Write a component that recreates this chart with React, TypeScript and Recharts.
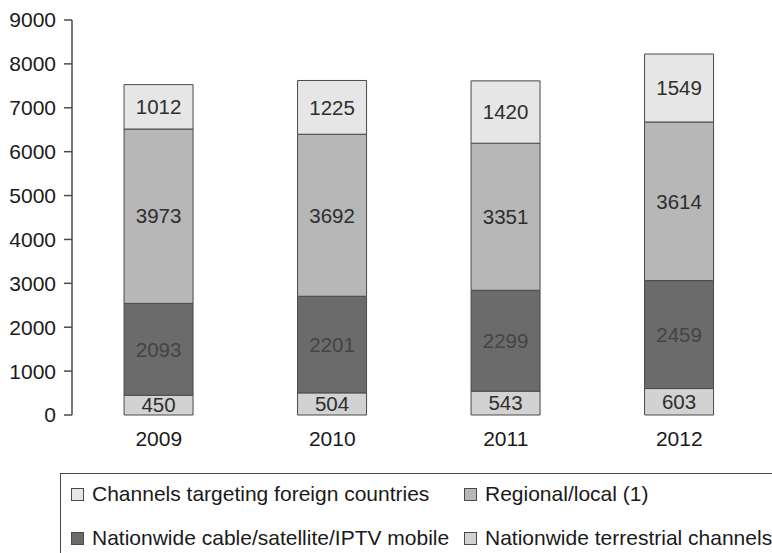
import React from "react";
import { BarChart, Bar, XAxis, YAxis, LabelList } from "recharts";

const years = ["2009", "2010", "2011", "2012"];
const terrestrial = [450, 504, 543, 603];
const cable = [2093, 2201, 2299, 2459];
const regional = [3973, 3692, 3351, 3614];
const foreign = [1012, 1225, 1420, 1549];
const yTicks = [0, 1000, 2000, 3000, 4000, 5000, 6000, 7000, 8000, 9000];
const boundaryTicks = [0, 1, 2, 3, 4];

const seriesNames = {
  foreign: "Channels targeting foreign countries",
  regional: "Regional/local (1)",
  cable: "Nationwide cable/satellite/IPTV mobile",
  terrestrial: "Nationwide terrestrial channels",
};

const colors = {
  foreign: "#e6e6e6",
  regional: "#b7b7b7",
  cable: "#6b6b6b",
  terrestrial: "#d2d2d2",
};

const data = years.map((y, i) => ({
  year: y,
  terrestrial: terrestrial[i],
  cable: cable[i],
  regional: regional[i],
  foreign: foreign[i],
}));

const FONT = "'Liberation Sans', Arial, Helvetica, sans-serif";
const STROKE = "#4a4a4a";
const TEXT = "#1a1a1a";

const legendRows = [
  ["foreign", "regional"],
  ["cable", "terrestrial"],
];

function LegendBox() {
  return (
    <div
      style={{
        position: "absolute",
        left: 60,
        top: 473,
        width: 730,
        height: 100,
        border: `1.5px solid ${STROKE}`,
        fontFamily: FONT,
        fontSize: 21,
        color: TEXT,
        boxSizing: "border-box",
      }}
    >
      {legendRows.map((row, r) => (
        <div
          key={r}
          style={{
            position: "absolute",
            top: r === 0 ? 8 : 52,
            left: 10,
            display: "flex",
            height: 24,
            alignItems: "center",
            whiteSpace: "nowrap",
          }}
        >
          {row.map((k, c) => (
            <div
              key={k}
              style={{
                display: "flex",
                alignItems: "center",
                width: c === 0 ? 393 : 330,
              }}
            >
              <span
                style={{
                  display: "inline-block",
                  width: 11,
                  height: 11,
                  background: colors[k],
                  border: `1px solid ${STROKE}`,
                  marginRight: 8,
                }}
              />
              <span>{seriesNames[k]}</span>
            </div>
          ))}
        </div>
      ))}
    </div>
  );
}

const labelStyle = { fontSize: 20.5, fontFamily: FONT };

export default function App() {
  return (
    <div
      style={{
        position: "absolute",
        left: 0,
        top: 0,
        width: 772,
        height: 553,
        background: "#fff",
        overflow: "hidden",
      }}
    >
      <BarChart
        width={772}
        height={553}
        data={data}
        margin={{ top: 20, right: 6, left: 0, bottom: 108 }}
        barCategoryGap="30%"
      >
        <XAxis
          xAxisId="grid"
          type="number"
          domain={[0, 4]}
          ticks={boundaryTicks}
          height={0}
          axisLine={{ stroke: STROKE, strokeWidth: 1.5 }}
          tickLine={{ stroke: STROKE, strokeWidth: 1.5 }}
          tickSize={8}
          tick={<g />}
          allowDataOverflow
        />
        <XAxis
          dataKey="year"
          height={30}
          axisLine={false}
          tickLine={false}
          tickMargin={10}
          tick={{ fill: TEXT, fontSize: 21, fontFamily: FONT }}
        />
        <YAxis
          width={72}
          domain={[0, 9000]}
          ticks={yTicks}
          interval={0}
          tickSize={8}
          tickMargin={8}
          axisLine={{ stroke: STROKE, strokeWidth: 1.5 }}
          tickLine={{ stroke: STROKE, strokeWidth: 1.5 }}
          tick={{ fill: TEXT, fontSize: 21, fontFamily: FONT }}
        />
        <Bar dataKey="terrestrial" stackId="a" fill={colors.terrestrial} stroke={STROKE} strokeWidth={1} isAnimationActive={false}>
          <LabelList dataKey="terrestrial" position="center" fill="#2e2e2e" style={labelStyle} />
        </Bar>
        <Bar dataKey="cable" stackId="a" fill={colors.cable} stroke={STROKE} strokeWidth={1} isAnimationActive={false}>
          <LabelList dataKey="cable" position="center" fill="#444" style={labelStyle} />
        </Bar>
        <Bar dataKey="regional" stackId="a" fill={colors.regional} stroke={STROKE} strokeWidth={1} isAnimationActive={false}>
          <LabelList dataKey="regional" position="center" fill="#2e2e2e" style={labelStyle} />
        </Bar>
        <Bar dataKey="foreign" stackId="a" fill={colors.foreign} stroke={STROKE} strokeWidth={1} isAnimationActive={false}>
          <LabelList dataKey="foreign" position="center" fill="#2e2e2e" style={labelStyle} />
        </Bar>
      </BarChart>
      <LegendBox />
    </div>
  );
}
